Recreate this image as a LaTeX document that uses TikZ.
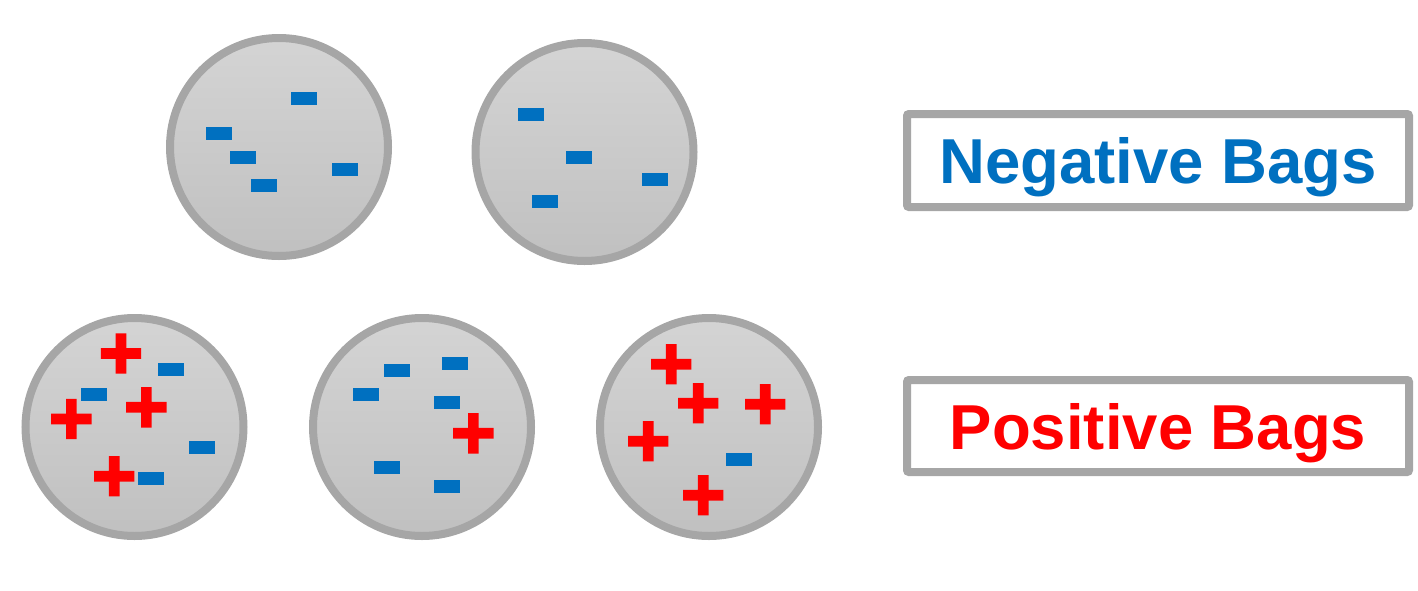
\documentclass[tikz,border=0pt]{standalone}
\usepackage{fontspec}
\setmainfont{Liberation Sans}
\definecolor{bagline}{RGB}{166,166,166}
\definecolor{bagtop}{RGB}{212,212,212}
\definecolor{bagbot}{RGB}{192,192,192}
\definecolor{negblue}{RGB}{0,112,192}
\definecolor{posred}{RGB}{255,0,0}
\newcommand\negmark[1]{\fill[negblue,shift={(#1)}] (-13.25,-6.5) rectangle (13.25,6.5);}
\newcommand\posmark[1]{\fill[posred,shift={(#1)}] (-20.2,-5.4) rectangle (20.2,5.4) (-5.3,-20.2) rectangle (5.3,20.2);}
\tikzset{
  bag/.style={circle, draw=bagline, line width=8pt, minimum size=218pt, inner sep=0pt,
    top color=bagtop, bottom color=bagbot},
  legend/.style={rectangle, draw=bagline, line width=8pt, fill=white, rounded corners=2pt,
    minimum width=502pt, inner sep=0pt, text depth=0pt, font=\bfseries\fontsize{63.5}{68}\selectfont}
}
\begin{document}
\begin{tikzpicture}[x=1pt,y=-1pt]
\useasboundingbox (0,0) rectangle (1418,590);
% bags
\node[bag] (n1) at (279,147) {};
\node[bag] (n2) at (584.5,152) {};
\node[bag] (p1) at (134.5,427) {};
\node[bag] (p2) at (422,427) {};
\node[bag] (p3) at (709,427) {};
% negative bag 1
\negmark{304,98.5}
\negmark{219,133.5}
\negmark{243,157.5}
\negmark{264,185.5}
\negmark{345,169.5}
% negative bag 2
\negmark{531.2,114.7}
\negmark{579.2,157.7}
\negmark{655.2,179.7}
\negmark{545.2,201.7}
% positive bag 1
\posmark{121,353.5}
\posmark{146.3,407.3}
\posmark{71.3,419}
\posmark{114.2,476.2}
\negmark{171.2,369.7}
\negmark{94.2,394.7}
\negmark{202.2,447.7}
\negmark{151.2,478.7}
% positive bag 2
\negmark{397.2,370.7}
\negmark{455.2,363.7}
\negmark{366.2,394.7}
\negmark{447.2,402.7}
\negmark{387.2,467.7}
\negmark{447.2,486.7}
\posmark{473.3,433.3}
% positive bag 3
\posmark{671.2,364.2}
\posmark{698.2,403.2}
\posmark{765.2,404.2}
\posmark{648.2,441.2}
\posmark{703.2,495.2}
\negmark{739.2,459.7}
% legends
\node[legend, minimum height=93pt, text=negblue] (negbox) at (1158,160.5) {Negative Bags};
\node[legend, minimum height=92pt, text=posred] (posbox) at (1158,426) {Positive Bags};
\end{tikzpicture}
\end{document}
